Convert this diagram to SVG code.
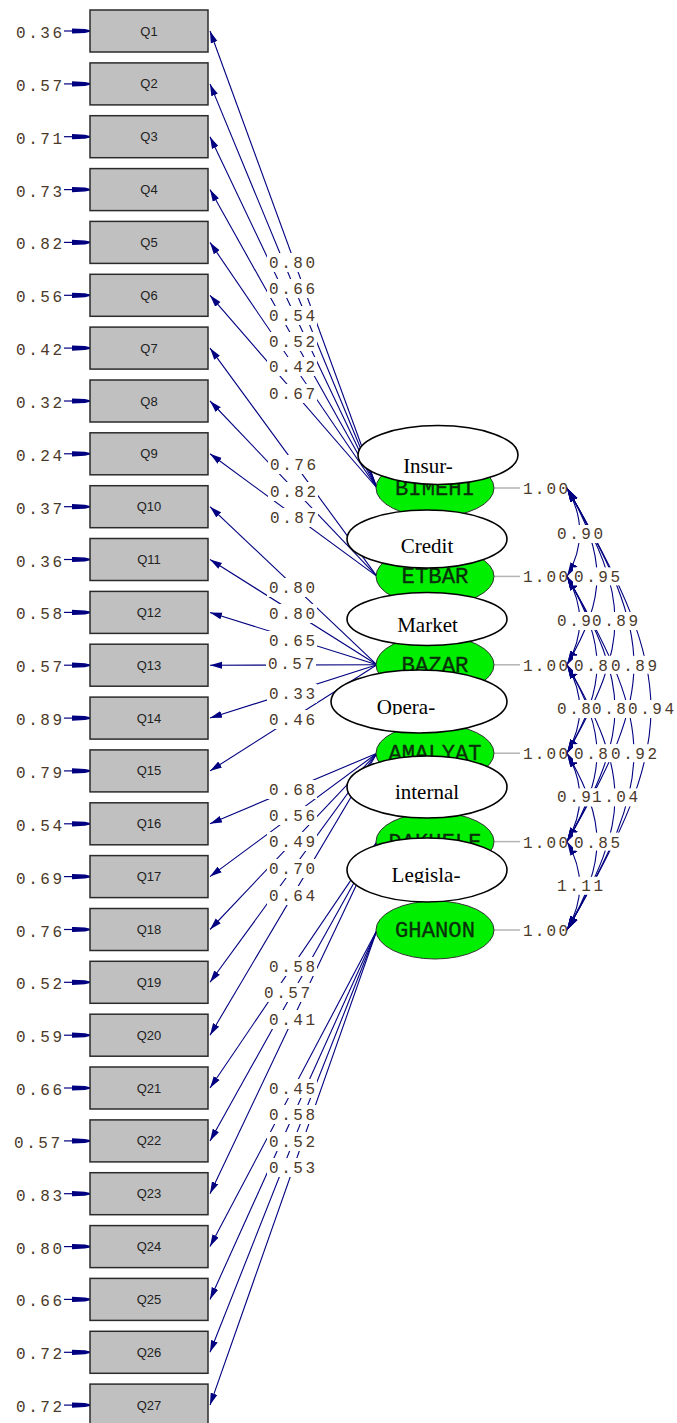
<svg xmlns="http://www.w3.org/2000/svg" width="677" height="1423" viewBox="0 0 677 1423">
<defs>
<style>
.box{fill:#c0c0c0;stroke:#2b2b2b;stroke-width:1.5}
.qt{font-family:"Liberation Sans",Arial,sans-serif;font-size:13px;fill:#222;text-anchor:middle}
.num{font-family:"Liberation Mono","Courier New",monospace;font-size:16px;fill:#4b3a2a}
.bg{fill:#ffffff}
.ld{stroke:#000080;stroke-width:1.1;fill:none;marker-end:url(#ah)}
.er{stroke:#000080;stroke-width:1.2;fill:none;marker-end:url(#eh)}
.vr{stroke:#b4b4b4;stroke-width:1.5}
.cv{stroke:#000080;stroke-width:1.1;fill:none;marker-start:url(#ah2);marker-end:url(#ah2)}
.lat{fill:#00ee00;stroke:#333333;stroke-width:1}
.lt{font-family:"Liberation Mono","Courier New",monospace;font-size:22px;fill:#0a300a;text-anchor:middle;stroke:#0a300a;stroke-width:0.3}
.ov{fill:#ffffff;stroke:#000000;stroke-width:1.6}
.ot{font-family:"Liberation Serif","Times New Roman",serif;font-size:21px;fill:#000000;text-anchor:middle}
</style>
<marker id="ah" viewBox="0 -4 12 8" markerWidth="12" markerHeight="8" refX="12" refY="0" orient="auto" markerUnits="userSpaceOnUse"><path d="M0,-3.5 L12,0 L0,3.5 z" fill="#000080"/></marker>
<marker id="ah2" viewBox="0 -4.5 14 9" markerWidth="14" markerHeight="9" refX="14" refY="0" orient="auto-start-reverse" markerUnits="userSpaceOnUse"><path d="M0,-4 L14,0 L0,4 z" fill="#000080"/></marker>
<marker id="eh" viewBox="0 -3 18 6" markerWidth="18" markerHeight="6" refX="18" refY="0" orient="auto" markerUnits="userSpaceOnUse"><path d="M0,-2.6 L13,-2 L18,-0.8 L18,0.8 L13,2 L0,2.6 z" fill="#000080"/></marker>
<clipPath id="cOp" clipPathUnits="userSpaceOnUse"><rect x="330" y="680" width="180" height="35"/></clipPath>
<clipPath id="cLe" clipPathUnits="userSpaceOnUse"><rect x="340" y="850" width="180" height="33"/></clipPath>
</defs>
<rect width="677" height="1423" fill="#ffffff"/>

<g id="connectors">
<g id="loadings">
<line class="ld" x1="377" y1="488" x2="210" y2="31"/>
<line class="ld" x1="377" y1="488" x2="210" y2="83.9"/>
<line class="ld" x1="377" y1="488" x2="210" y2="136.7"/>
<line class="ld" x1="377" y1="488" x2="210" y2="189.6"/>
<line class="ld" x1="377" y1="488" x2="210" y2="242.4"/>
<line class="ld" x1="377" y1="488" x2="210" y2="295.3"/>
<line class="ld" x1="377" y1="576.4" x2="210" y2="348.1"/>
<line class="ld" x1="377" y1="576.4" x2="210" y2="401"/>
<line class="ld" x1="377" y1="576.4" x2="210" y2="453.8"/>
<line class="ld" x1="377" y1="664.8" x2="210" y2="506.7"/>
<line class="ld" x1="377" y1="664.8" x2="210" y2="559.5"/>
<line class="ld" x1="377" y1="664.8" x2="210" y2="612.4"/>
<line class="ld" x1="377" y1="664.8" x2="210" y2="665.2"/>
<line class="ld" x1="377" y1="664.8" x2="210" y2="718.1"/>
<line class="ld" x1="377" y1="664.8" x2="210" y2="770.9"/>
<line class="ld" x1="377" y1="753.2" x2="210" y2="823.8"/>
<line class="ld" x1="377" y1="753.2" x2="210" y2="876.6"/>
<line class="ld" x1="377" y1="753.2" x2="210" y2="929.5"/>
<line class="ld" x1="377" y1="753.2" x2="210" y2="982.3"/>
<line class="ld" x1="377" y1="753.2" x2="210" y2="1035.2"/>
<line class="ld" x1="377" y1="841.6" x2="210" y2="1088"/>
<line class="ld" x1="377" y1="841.6" x2="210" y2="1140.9"/>
<line class="ld" x1="377" y1="841.6" x2="210" y2="1193.7"/>
<line class="ld" x1="377" y1="930" x2="210" y2="1246.6"/>
<line class="ld" x1="377" y1="930" x2="210" y2="1299.4"/>
<line class="ld" x1="377" y1="930" x2="210" y2="1352.3"/>
<line class="ld" x1="377" y1="930" x2="210" y2="1405.1"/>
</g>
<g id="errors">
<line class="er" x1="64" y1="31" x2="90" y2="31"/>
<line class="er" x1="64" y1="83.9" x2="90" y2="83.9"/>
<line class="er" x1="64" y1="136.7" x2="90" y2="136.7"/>
<line class="er" x1="64" y1="189.6" x2="90" y2="189.6"/>
<line class="er" x1="64" y1="242.4" x2="90" y2="242.4"/>
<line class="er" x1="64" y1="295.3" x2="90" y2="295.3"/>
<line class="er" x1="64" y1="348.1" x2="90" y2="348.1"/>
<line class="er" x1="64" y1="401" x2="90" y2="401"/>
<line class="er" x1="64" y1="453.8" x2="90" y2="453.8"/>
<line class="er" x1="64" y1="506.7" x2="90" y2="506.7"/>
<line class="er" x1="64" y1="559.5" x2="90" y2="559.5"/>
<line class="er" x1="64" y1="612.4" x2="90" y2="612.4"/>
<line class="er" x1="64" y1="665.2" x2="90" y2="665.2"/>
<line class="er" x1="64" y1="718.1" x2="90" y2="718.1"/>
<line class="er" x1="64" y1="770.9" x2="90" y2="770.9"/>
<line class="er" x1="64" y1="823.8" x2="90" y2="823.8"/>
<line class="er" x1="64" y1="876.6" x2="90" y2="876.6"/>
<line class="er" x1="64" y1="929.5" x2="90" y2="929.5"/>
<line class="er" x1="64" y1="982.3" x2="90" y2="982.3"/>
<line class="er" x1="64" y1="1035.2" x2="90" y2="1035.2"/>
<line class="er" x1="64" y1="1088" x2="90" y2="1088"/>
<line class="er" x1="64" y1="1140.9" x2="90" y2="1140.9"/>
<line class="er" x1="64" y1="1193.7" x2="90" y2="1193.7"/>
<line class="er" x1="64" y1="1246.6" x2="90" y2="1246.6"/>
<line class="er" x1="64" y1="1299.4" x2="90" y2="1299.4"/>
<line class="er" x1="64" y1="1352.3" x2="90" y2="1352.3"/>
<line class="er" x1="64" y1="1405.1" x2="90" y2="1405.1"/>
</g>
<g id="variances">
<line class="vr" x1="494" y1="488" x2="520" y2="488"/>
<line class="vr" x1="494" y1="576.4" x2="520" y2="576.4"/>
<line class="vr" x1="494" y1="664.8" x2="520" y2="664.8"/>
<line class="vr" x1="494" y1="753.2" x2="520" y2="753.2"/>
<line class="vr" x1="494" y1="841.6" x2="520" y2="841.6"/>
<line class="vr" x1="494" y1="930" x2="520" y2="930"/>
</g>
<g id="covariances">
<path class="cv" d="M567,488 C584.3,518 584.3,546.4 567,576.4"/>
<path class="cv" d="M567,576.4 C584.3,606.4 584.3,634.8 567,664.8"/>
<path class="cv" d="M567,664.8 C584.3,694.8 584.3,723.2 567,753.2"/>
<path class="cv" d="M567,753.2 C584.3,783.2 584.3,811.6 567,841.6"/>
<path class="cv" d="M567,841.6 C584.3,871.6 584.3,900 567,930"/>
<path class="cv" d="M567,488 C607,557 607,595.8 567,664.8"/>
<path class="cv" d="M567,576.4 C607,645.4 607,684.2 567,753.2"/>
<path class="cv" d="M567,664.8 C607,733.8 607,772.6 567,841.6"/>
<path class="cv" d="M567,753.2 C607,822.2 607,861 567,930"/>
<path class="cv" d="M567,488 C631,599 631,642.2 567,753.2"/>
<path class="cv" d="M567,576.4 C631,687.4 631,730.6 567,841.6"/>
<path class="cv" d="M567,664.8 C631,775.8 631,819 567,930"/>
<path class="cv" d="M567,488 C656.3,642.7 656.3,686.9 567,841.6"/>
<path class="cv" d="M567,576.4 C656.3,731.1 656.3,775.3 567,930"/>
<path class="cv" d="M567,488 C679,682 679,736 567,930"/>
</g>
</g>

<g id="labels">
<g id="error-labels">
<text class="num" x="16" y="38" textLength="46" lengthAdjust="spacing">0.36</text>
<text class="num" x="16" y="90.9" textLength="46" lengthAdjust="spacing">0.57</text>
<text class="num" x="16" y="143.7" textLength="46" lengthAdjust="spacing">0.71</text>
<text class="num" x="16" y="196.6" textLength="46" lengthAdjust="spacing">0.73</text>
<text class="num" x="16" y="249.4" textLength="46" lengthAdjust="spacing">0.82</text>
<text class="num" x="16" y="302.3" textLength="46" lengthAdjust="spacing">0.56</text>
<text class="num" x="16" y="355.1" textLength="46" lengthAdjust="spacing">0.42</text>
<text class="num" x="16" y="408" textLength="46" lengthAdjust="spacing">0.32</text>
<text class="num" x="16" y="460.8" textLength="46" lengthAdjust="spacing">0.24</text>
<text class="num" x="16" y="513.7" textLength="46" lengthAdjust="spacing">0.37</text>
<text class="num" x="16" y="566.5" textLength="46" lengthAdjust="spacing">0.36</text>
<text class="num" x="16" y="619.4" textLength="46" lengthAdjust="spacing">0.58</text>
<text class="num" x="16" y="672.2" textLength="46" lengthAdjust="spacing">0.57</text>
<text class="num" x="16" y="725.1" textLength="46" lengthAdjust="spacing">0.89</text>
<text class="num" x="16" y="777.9" textLength="46" lengthAdjust="spacing">0.79</text>
<text class="num" x="16" y="830.8" textLength="46" lengthAdjust="spacing">0.54</text>
<text class="num" x="16" y="883.6" textLength="46" lengthAdjust="spacing">0.69</text>
<text class="num" x="16" y="936.5" textLength="46" lengthAdjust="spacing">0.76</text>
<text class="num" x="16" y="989.3" textLength="46" lengthAdjust="spacing">0.52</text>
<text class="num" x="16" y="1042.2" textLength="46" lengthAdjust="spacing">0.59</text>
<text class="num" x="16" y="1095" textLength="46" lengthAdjust="spacing">0.66</text>
<text class="num" x="14" y="1147.9" textLength="46" lengthAdjust="spacing">0.57</text>
<text class="num" x="16" y="1200.7" textLength="46" lengthAdjust="spacing">0.83</text>
<text class="num" x="16" y="1253.6" textLength="46" lengthAdjust="spacing">0.80</text>
<text class="num" x="16" y="1306.4" textLength="46" lengthAdjust="spacing">0.66</text>
<text class="num" x="16" y="1359.3" textLength="46" lengthAdjust="spacing">0.72</text>
<text class="num" x="16" y="1412.1" textLength="46" lengthAdjust="spacing">0.72</text>
</g>
<g id="loading-labels">
<rect class="bg" x="267" y="253" width="50" height="19"/><text class="num" x="269" y="268" textLength="46" lengthAdjust="spacing">0.80</text>
<rect class="bg" x="267" y="279" width="50" height="19"/><text class="num" x="269" y="294" textLength="46" lengthAdjust="spacing">0.66</text>
<rect class="bg" x="267" y="306" width="50" height="19"/><text class="num" x="269" y="321" textLength="46" lengthAdjust="spacing">0.54</text>
<rect class="bg" x="267" y="332" width="50" height="19"/><text class="num" x="269" y="347" textLength="46" lengthAdjust="spacing">0.52</text>
<rect class="bg" x="267" y="357" width="50" height="19"/><text class="num" x="269" y="372" textLength="46" lengthAdjust="spacing">0.42</text>
<rect class="bg" x="267" y="384" width="50" height="19"/><text class="num" x="269" y="399" textLength="46" lengthAdjust="spacing">0.67</text>
<rect class="bg" x="268" y="455" width="50" height="19"/><text class="num" x="270" y="470" textLength="46" lengthAdjust="spacing">0.76</text>
<rect class="bg" x="268" y="482" width="50" height="19"/><text class="num" x="270" y="497" textLength="46" lengthAdjust="spacing">0.82</text>
<rect class="bg" x="268" y="508" width="50" height="19"/><text class="num" x="270" y="523" textLength="46" lengthAdjust="spacing">0.87</text>
<rect class="bg" x="267" y="578" width="50" height="19"/><text class="num" x="269" y="593" textLength="46" lengthAdjust="spacing">0.80</text>
<rect class="bg" x="267" y="604" width="50" height="19"/><text class="num" x="269" y="619" textLength="46" lengthAdjust="spacing">0.80</text>
<rect class="bg" x="267" y="631" width="50" height="19"/><text class="num" x="269" y="646" textLength="46" lengthAdjust="spacing">0.65</text>
<rect class="bg" x="266" y="654" width="50" height="19"/><text class="num" x="268" y="669" textLength="46" lengthAdjust="spacing">0.57</text>
<rect class="bg" x="267" y="684" width="50" height="19"/><text class="num" x="269" y="699" textLength="46" lengthAdjust="spacing">0.33</text>
<rect class="bg" x="267" y="710" width="50" height="19"/><text class="num" x="269" y="725" textLength="46" lengthAdjust="spacing">0.46</text>
<rect class="bg" x="267" y="780" width="50" height="19"/><text class="num" x="269" y="795" textLength="46" lengthAdjust="spacing">0.68</text>
<rect class="bg" x="267" y="806" width="50" height="19"/><text class="num" x="269" y="821" textLength="46" lengthAdjust="spacing">0.56</text>
<rect class="bg" x="267" y="832" width="50" height="19"/><text class="num" x="269" y="847" textLength="46" lengthAdjust="spacing">0.49</text>
<rect class="bg" x="267" y="859" width="50" height="19"/><text class="num" x="269" y="874" textLength="46" lengthAdjust="spacing">0.70</text>
<rect class="bg" x="267" y="886" width="50" height="19"/><text class="num" x="269" y="901" textLength="46" lengthAdjust="spacing">0.64</text>
<rect class="bg" x="267" y="957" width="50" height="19"/><text class="num" x="269" y="972" textLength="46" lengthAdjust="spacing">0.58</text>
<rect class="bg" x="262" y="983" width="50" height="19"/><text class="num" x="264" y="998" textLength="46" lengthAdjust="spacing">0.57</text>
<rect class="bg" x="267" y="1010" width="50" height="19"/><text class="num" x="269" y="1025" textLength="46" lengthAdjust="spacing">0.41</text>
<rect class="bg" x="267" y="1079" width="50" height="19"/><text class="num" x="269" y="1094" textLength="46" lengthAdjust="spacing">0.45</text>
<rect class="bg" x="267" y="1105" width="50" height="19"/><text class="num" x="269" y="1120" textLength="46" lengthAdjust="spacing">0.58</text>
<rect class="bg" x="267" y="1132" width="50" height="19"/><text class="num" x="269" y="1147" textLength="46" lengthAdjust="spacing">0.52</text>
<rect class="bg" x="267" y="1158" width="50" height="19"/><text class="num" x="269" y="1173" textLength="46" lengthAdjust="spacing">0.53</text>
</g>
<g id="variance-labels">
<text class="num" x="523" y="494" textLength="45" lengthAdjust="spacing">1.00</text>
<text class="num" x="523" y="582.4" textLength="45" lengthAdjust="spacing">1.00</text>
<text class="num" x="523" y="670.8" textLength="45" lengthAdjust="spacing">1.00</text>
<text class="num" x="523" y="759.2" textLength="45" lengthAdjust="spacing">1.00</text>
<text class="num" x="523" y="847.6" textLength="45" lengthAdjust="spacing">1.00</text>
<text class="num" x="523" y="936" textLength="45" lengthAdjust="spacing">1.00</text>
</g>
<g id="covariance-labels">
<rect class="bg" x="556" y="525" width="48" height="18"/><text class="num" x="557" y="539" textLength="46" lengthAdjust="spacing">0.90</text>
<rect class="bg" x="556" y="612" width="48" height="18"/><text class="num" x="557" y="626" textLength="46" lengthAdjust="spacing">0.90</text>
<rect class="bg" x="556" y="700" width="48" height="18"/><text class="num" x="557" y="714" textLength="46" lengthAdjust="spacing">0.80</text>
<rect class="bg" x="556" y="788.4" width="48" height="18"/><text class="num" x="557" y="802.4" textLength="46" lengthAdjust="spacing">0.91</text>
<rect class="bg" x="556" y="876.8" width="48" height="18"/><text class="num" x="557" y="890.8" textLength="46" lengthAdjust="spacing">1.11</text>
<rect class="bg" x="573" y="567.4" width="48" height="18"/><text class="num" x="574" y="582.4" textLength="46" lengthAdjust="spacing">0.95</text>
<rect class="bg" x="573" y="655.8" width="48" height="18"/><text class="num" x="574" y="670.8" textLength="46" lengthAdjust="spacing">0.80</text>
<rect class="bg" x="573" y="744.2" width="48" height="18"/><text class="num" x="574" y="759.2" textLength="46" lengthAdjust="spacing">0.80</text>
<rect class="bg" x="573" y="832.6" width="48" height="18"/><text class="num" x="574" y="847.6" textLength="46" lengthAdjust="spacing">0.85</text>
<rect class="bg" x="591" y="612" width="48" height="18"/><text class="num" x="592" y="626" textLength="46" lengthAdjust="spacing">0.89</text>
<rect class="bg" x="591" y="700" width="48" height="18"/><text class="num" x="592" y="714" textLength="46" lengthAdjust="spacing">0.80</text>
<rect class="bg" x="591" y="788.4" width="48" height="18"/><text class="num" x="592" y="802.4" textLength="46" lengthAdjust="spacing">1.04</text>
<rect class="bg" x="610" y="655.8" width="48" height="18"/><text class="num" x="611" y="670.8" textLength="46" lengthAdjust="spacing">0.89</text>
<rect class="bg" x="610" y="744.2" width="48" height="18"/><text class="num" x="611" y="759.2" textLength="46" lengthAdjust="spacing">0.92</text>
<rect class="bg" x="627" y="700" width="48" height="18"/><text class="num" x="628" y="714" textLength="46" lengthAdjust="spacing">0.94</text>
</g>
</g>

<g id="observed">
<g id="Q1"><rect class="box" x="90" y="10" width="118" height="42"/><text class="qt" x="149" y="35.5">Q1</text></g>
<g id="Q2"><rect class="box" x="90" y="62.9" width="118" height="42"/><text class="qt" x="149" y="88.4">Q2</text></g>
<g id="Q3"><rect class="box" x="90" y="115.7" width="118" height="42"/><text class="qt" x="149" y="141.2">Q3</text></g>
<g id="Q4"><rect class="box" x="90" y="168.6" width="118" height="42"/><text class="qt" x="149" y="194.1">Q4</text></g>
<g id="Q5"><rect class="box" x="90" y="221.4" width="118" height="42"/><text class="qt" x="149" y="246.9">Q5</text></g>
<g id="Q6"><rect class="box" x="90" y="274.3" width="118" height="42"/><text class="qt" x="149" y="299.8">Q6</text></g>
<g id="Q7"><rect class="box" x="90" y="327.1" width="118" height="42"/><text class="qt" x="149" y="352.6">Q7</text></g>
<g id="Q8"><rect class="box" x="90" y="380" width="118" height="42"/><text class="qt" x="149" y="405.5">Q8</text></g>
<g id="Q9"><rect class="box" x="90" y="432.8" width="118" height="42"/><text class="qt" x="149" y="458.3">Q9</text></g>
<g id="Q10"><rect class="box" x="90" y="485.7" width="118" height="42"/><text class="qt" x="149" y="511.2">Q10</text></g>
<g id="Q11"><rect class="box" x="90" y="538.5" width="118" height="42"/><text class="qt" x="149" y="564">Q11</text></g>
<g id="Q12"><rect class="box" x="90" y="591.4" width="118" height="42"/><text class="qt" x="149" y="616.9">Q12</text></g>
<g id="Q13"><rect class="box" x="90" y="644.2" width="118" height="42"/><text class="qt" x="149" y="669.7">Q13</text></g>
<g id="Q14"><rect class="box" x="90" y="697.1" width="118" height="42"/><text class="qt" x="149" y="722.6">Q14</text></g>
<g id="Q15"><rect class="box" x="90" y="749.9" width="118" height="42"/><text class="qt" x="149" y="775.4">Q15</text></g>
<g id="Q16"><rect class="box" x="90" y="802.8" width="118" height="42"/><text class="qt" x="149" y="828.3">Q16</text></g>
<g id="Q17"><rect class="box" x="90" y="855.6" width="118" height="42"/><text class="qt" x="149" y="881.1">Q17</text></g>
<g id="Q18"><rect class="box" x="90" y="908.5" width="118" height="42"/><text class="qt" x="149" y="934">Q18</text></g>
<g id="Q19"><rect class="box" x="90" y="961.3" width="118" height="42"/><text class="qt" x="149" y="986.8">Q19</text></g>
<g id="Q20"><rect class="box" x="90" y="1014.2" width="118" height="42"/><text class="qt" x="149" y="1039.7">Q20</text></g>
<g id="Q21"><rect class="box" x="90" y="1067" width="118" height="42"/><text class="qt" x="149" y="1092.5">Q21</text></g>
<g id="Q22"><rect class="box" x="90" y="1119.9" width="118" height="42"/><text class="qt" x="149" y="1145.4">Q22</text></g>
<g id="Q23"><rect class="box" x="90" y="1172.7" width="118" height="42"/><text class="qt" x="149" y="1198.2">Q23</text></g>
<g id="Q24"><rect class="box" x="90" y="1225.6" width="118" height="42"/><text class="qt" x="149" y="1251.1">Q24</text></g>
<g id="Q25"><rect class="box" x="90" y="1278.4" width="118" height="42"/><text class="qt" x="149" y="1303.9">Q25</text></g>
<g id="Q26"><rect class="box" x="90" y="1331.3" width="118" height="42"/><text class="qt" x="149" y="1356.8">Q26</text></g>
<g id="Q27"><rect class="box" x="90" y="1384.1" width="118" height="42"/><text class="qt" x="149" y="1409.6">Q27</text></g>
</g>

<g id="latents">
<g id="BIMEHI"><ellipse class="lat" cx="435" cy="488" rx="59" ry="29"/><text class="lt" x="435" y="495" textLength="80" lengthAdjust="spacingAndGlyphs">BIMEHI</text></g>
<g id="ETBAR"><ellipse class="lat" cx="435" cy="576.4" rx="59" ry="29"/><text class="lt" x="435" y="583.4" textLength="67" lengthAdjust="spacingAndGlyphs">ETBAR</text></g>
<g id="BAZAR"><ellipse class="lat" cx="435" cy="664.8" rx="59" ry="29"/><text class="lt" x="435" y="671.8" textLength="67" lengthAdjust="spacingAndGlyphs">BAZAR</text></g>
<g id="AMALYAT"><ellipse class="lat" cx="435" cy="753.2" rx="59" ry="29"/><text class="lt" x="435" y="760.2" textLength="93" lengthAdjust="spacingAndGlyphs">AMALYAT</text></g>
<g id="DAKHELE"><ellipse class="lat" cx="435" cy="841.6" rx="59" ry="29"/><text class="lt" x="435" y="848.6" textLength="93" lengthAdjust="spacingAndGlyphs">DAKHELE</text></g>
<g id="GHANON"><ellipse class="lat" cx="435" cy="930" rx="59" ry="29"/><text class="lt" x="435" y="937" textLength="80" lengthAdjust="spacingAndGlyphs">GHANON</text></g>
</g>

<g id="overlays">
<g id="Insur"><ellipse class="ov" cx="438" cy="455" rx="80" ry="29.5"/><text class="ot" x="428" y="473">Insur-</text></g>
<g id="Credit"><ellipse class="ov" cx="427" cy="539" rx="80" ry="29"/><text class="ot" x="427" y="553">Credit</text></g>
<g id="Market"><ellipse class="ov" cx="427" cy="619" rx="80" ry="26.5"/><text class="ot" x="427.5" y="632">Market</text></g>
<g id="Opera"><ellipse class="ov" cx="419" cy="701.5" rx="88" ry="31.5"/><text class="ot" x="406" y="714" clip-path="url(#cOp)">Opera-</text></g>
<g id="internal"><ellipse class="ov" cx="427" cy="787" rx="80" ry="31"/><text class="ot" x="427" y="799">internal</text></g>
<g id="Legisla"><ellipse class="ov" cx="427" cy="870" rx="80" ry="32"/><text class="ot" x="426" y="882" clip-path="url(#cLe)">Legisla-</text></g>
</g>
</svg>
